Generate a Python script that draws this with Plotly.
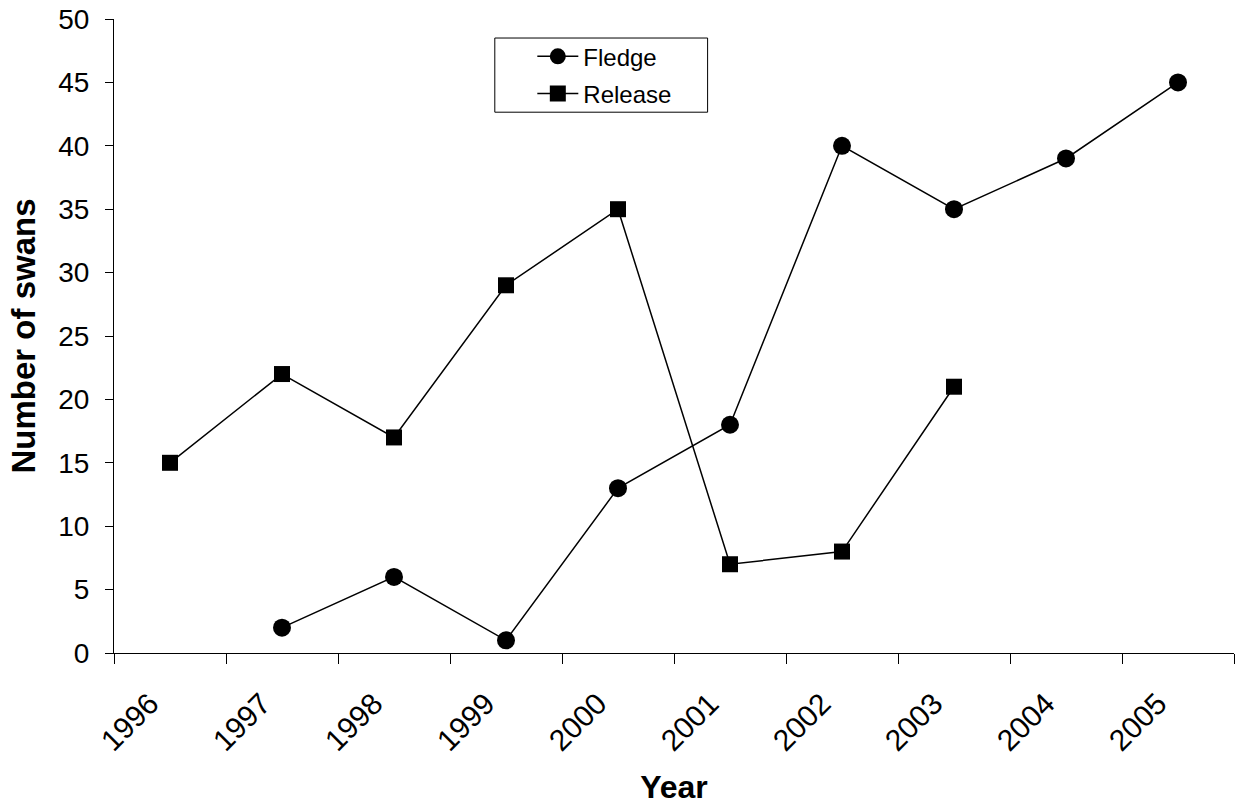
import plotly.graph_objects as go

years = ["1996", "1997", "1998", "1999", "2000", "2001", "2002", "2003", "2004", "2005"]
fledge = [None, 2, 6, 1, 13, 18, 40, 35, 39, 45]
release = [15, 22, 17, 29, 35, 7, 8, 21, None, None]

FONT = "Arial, Liberation Sans, sans-serif"

fig = go.Figure()
fig.add_trace(go.Scatter(
    x=years, y=fledge, name="Fledge", mode="lines+markers",
    line=dict(color="black", width=1.5),
    marker=dict(symbol="circle", size=18, color="black"),
    connectgaps=False, legendgroup="f",
))
fig.add_trace(go.Scatter(
    x=years, y=release, name="Release", mode="lines+markers",
    line=dict(color="black", width=1.5),
    marker=dict(symbol="square", size=16, color="black"),
    connectgaps=False, legendgroup="r",
))

fig.update_layout(
    width=1238, height=805,
    margin=dict(l=114, r=4, t=19, b=152),
    paper_bgcolor="white", plot_bgcolor="white",
    font=dict(family=FONT, size=28, color="black"),
    showlegend=True,
    legend=dict(
        x=0.3735, y=0.976, xanchor="left", yanchor="top",
        borderwidth=0, bgcolor="rgba(0,0,0,0)",
        font=dict(family=FONT, size=24, color="black"),
        traceorder="grouped", tracegroupgap=3, itemwidth=41,
    ),
    shapes=[dict(
        type="rect", xref="paper", yref="paper",
        x0=0.340, x1=0.530, y0=0.853, y1=0.970,
        line=dict(color="black", width=1), fillcolor="rgba(0,0,0,0)", layer="below",
    )],
)
fig.update_xaxes(
    type="category", categoryorder="array", categoryarray=years,
    range=[-0.5, 9.5], automargin=False,
    showline=True, linecolor="black", linewidth=1,
    ticks="outside", ticklen=10, tickcolor="black", tickwidth=1,
    tickson="boundaries",
    tickangle=-45, ticklabelshift=-20, ticklabelstandoff=20,
    tickfont=dict(family=FONT, size=30, color="black"),
    showgrid=False, zeroline=False,
    title=dict(text="<b>Year</b>", font=dict(family=FONT, size=32, color="black"), standoff=30),
)
fig.update_yaxes(
    range=[0, 50], dtick=5, tick0=0, automargin=False,
    showline=True, linecolor="black", linewidth=1,
    ticks="outside", ticklen=8, tickcolor="black", tickwidth=1,
    ticklabelstandoff=10,
    tickfont=dict(family=FONT, size=28, color="black"),
    showgrid=False, zeroline=False,
    title=dict(text="<b>Number of swans</b>", font=dict(family=FONT, size=33, color="black"), standoff=12),
)

fig.write_html("out.html", config={"displayModeBar": False},
               post_script="document.body.style.margin='0';")
